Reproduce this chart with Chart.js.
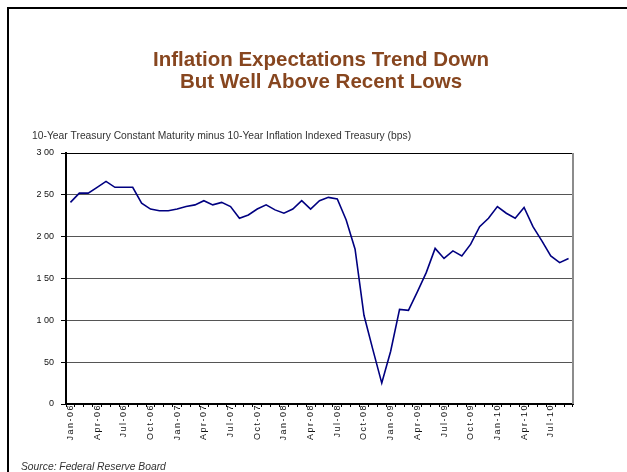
<!DOCTYPE html>
<html>
<head>
<meta charset="utf-8">
<title>Inflation Expectations Trend Down</title>
<script src="https://cdn.jsdelivr.net/npm/chart.js@4.4.1/dist/chart.umd.min.js"></script>
<style>
  html, body { margin: 0; padding: 0; background: #fff; }
  #wrap { position: relative; width: 627px; height: 472px; }
</style>
</head>
<body>
<div id="wrap"><canvas id="spread" width="627" height="472"></canvas></div>
<script>
// 10y nominal minus 10y TIPS, monthly, Jan-06 .. Sep-10
const months = [
    'Jan-06', 'Feb-06', 'Mar-06', 'Apr-06', 'May-06', 'Jun-06', 'Jul-06', 'Aug-06', 'Sep-06', 'Oct-06', 'Nov-06', 'Dec-06',
    'Jan-07', 'Feb-07', 'Mar-07', 'Apr-07', 'May-07', 'Jun-07', 'Jul-07', 'Aug-07', 'Sep-07', 'Oct-07', 'Nov-07', 'Dec-07',
    'Jan-08', 'Feb-08', 'Mar-08', 'Apr-08', 'May-08', 'Jun-08', 'Jul-08', 'Aug-08', 'Sep-08', 'Oct-08', 'Nov-08', 'Dec-08',
    'Jan-09', 'Feb-09', 'Mar-09', 'Apr-09', 'May-09', 'Jun-09', 'Jul-09', 'Aug-09', 'Sep-09', 'Oct-09', 'Nov-09', 'Dec-09',
    'Jan-10', 'Feb-10', 'Mar-10', 'Apr-10', 'May-10', 'Jun-10', 'Jul-10', 'Aug-10', 'Sep-10'
];

const spreadBps = [
    241, 252, 252, 259, 266, 259, 259, 259, 240, 233, 231, 231,
    233, 236, 238, 243, 238, 241, 236, 222, 226, 233, 238, 232,
    228, 233, 243, 233, 243, 247, 245, 220, 185, 106, 65, 25,
    63, 113, 112, 134, 157, 186, 174, 183, 177, 191, 212, 222,
    236, 228, 222, 235, 212, 195, 177, 169, 174
];

const yTickLabels = ['0', '50', '1 00', '1 50', '2 00', '2 50', '3 00'];

const titleLines = ['Inflation Expectations Trend Down', 'But Well Above Recent Lows'];
const subtitle = '10-Year Treasury Constant Maturity minus 10-Year Inflation Indexed Treasury (bps)';
const sourceNote = 'Source: Federal Reserve Board';

const FONT = '"Liberation Sans", Arial, Helvetica, sans-serif';

// slide frame, headings, footnote, plus the grey right edge of the plot
const slideText = {
    id: 'slideText',
    afterLayout(chart) {
        // spaced-out month labels on the x axis only
        const sx = chart.scales.x;
        if (!sx._spaced) {
            const draw = sx.drawLabels;
            sx.drawLabels = function (area) {
                const ctx = this.ctx;
                ctx.save();
                ctx.letterSpacing = '1.5px';
                draw.call(this, area);
                ctx.restore();
            };
            sx._spaced = true;
        }
    },
    beforeDatasetsDraw(chart) {
        const { ctx, chartArea } = chart;
        ctx.save();
        ctx.strokeStyle = '#8c8c8c';
        ctx.lineWidth = 2;
        ctx.beginPath();
        ctx.moveTo(chartArea.right, chartArea.top);
        ctx.lineTo(chartArea.right, chartArea.bottom);
        ctx.stroke();
        ctx.restore();
    },
    afterDraw(chart) {
        const ctx = chart.ctx;
        ctx.save();

        ctx.strokeStyle = '#000';
        ctx.lineWidth = 2;
        ctx.beginPath();
        ctx.moveTo(8, 472);
        ctx.lineTo(8, 8);
        ctx.lineTo(627, 8);
        ctx.stroke();

        ctx.fillStyle = '#87461f';
        ctx.font = 'bold 20.5px ' + FONT;
        ctx.textAlign = 'center';
        ctx.textBaseline = 'alphabetic';
        ctx.fillText(titleLines[0], 321, 66);
        ctx.fillText(titleLines[1], 321, 87.5);

        ctx.fillStyle = '#333';
        ctx.textAlign = 'left';
        ctx.font = '10.3px ' + FONT;
        ctx.fillText(subtitle, 32, 138.5);

        ctx.font = 'italic 10.3px ' + FONT;
        ctx.fillText(sourceNote, 21, 469.5);

        ctx.restore();
    }
};

new Chart(document.getElementById('spread'), {
    type: 'line',
    data: {
        labels: months,
        datasets: [{
            label: 'Spread (bps)',
            data: spreadBps,
            borderColor: '#000080',
            borderWidth: 1.6,
            pointRadius: 0,
            tension: 0,
            fill: false
        }]
    },
    options: {
        responsive: false,
        animation: false,
        devicePixelRatio: 1,
        layout: { padding: { top: 153, right: 54, left: 0, bottom: 0 } },
        plugins: {
            legend: { display: false },
            title: { display: false },
            tooltip: { enabled: false }
        },
        scales: {
            x: {
                offset: true,
                grid: {
                    offset: true,
                    drawOnChartArea: false,
                    drawTicks: true,
                    tickLength: 3,
                    color: '#000',
                    tickColor: '#000'
                },
                border: { display: true, color: '#000', width: 2 },
                ticks: {
                    autoSkip: false,
                    minRotation: 90,
                    maxRotation: 90,
                    padding: -3,
                    color: '#111',
                    font: { family: FONT, size: 9 },
                    callback: (v, i) => (i % 3 === 0 ? months[i] : '')
                },
                afterFit: s => { s.height = 68; }
            },
            y: {
                min: 0,
                max: 300,
                ticks: {
                    stepSize: 50,
                    padding: 7,
                    color: '#111',
                    font: { family: FONT, size: 9 },
                    callback: (v, i) => yTickLabels[i]
                },
                grid: {
                    color: c => (c.tick && c.tick.value === 300 ? '#000' : '#555'),
                    lineWidth: 1,
                    tickLength: 5,
                    tickColor: '#000'
                },
                border: { display: true, color: '#000', width: 2 },
                afterFit: s => { s.width = 66; }
            }
        }
    },
    plugins: [slideText]
});
</script>
</body>
</html>
